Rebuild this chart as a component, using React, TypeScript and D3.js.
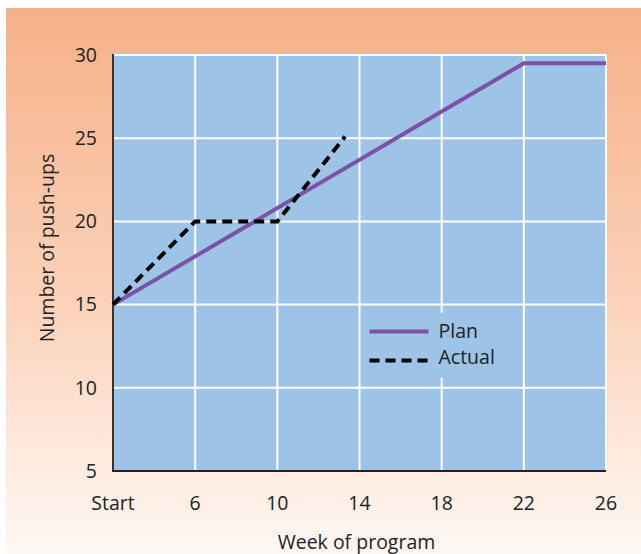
import * as React from 'react';
import { useEffect, useRef } from 'react';
import { select, scaleLinear, line } from 'd3';

interface IPoint {
    week: number;
    value: number;
}

// week 2 is shown as "Start"
const weekTicks = [2, 6, 10, 14, 18, 22, 26];
const weekTickLabels = ['Start', '6', '10', '14', '18', '22', '26'];
const valueTicks = [5, 10, 15, 20, 25, 30];

const planWeeks = [2, 22, 26];
const planValues = [15, 29.5, 29.5];

const actualWeeks = [2, 6, 10, 13.3];
const actualValues = [15, 20, 20, 25.1];

const WIDTH = 641;
const HEIGHT = 554;
const margin = { top: 55, right: 35, bottom: 83, left: 113 };
const FONT = '"Open Sans", "Noto Sans", sans-serif';
const FS = 19.5;

const toPoints = (weeks: number[], values: number[]): IPoint[] =>
    weeks.map((w, i) => ({ week: w, value: values[i] }));

export default function App() {
    const ref = useRef<SVGSVGElement>(null);

    useEffect(() => {
        const svg = select(ref.current);
        svg.selectAll('*').remove();

        const width = WIDTH - margin.left - margin.right;
        const height = HEIGHT - margin.top - margin.bottom;

        const x = scaleLinear().domain([2, 26]).range([0, width]);
        const y = scaleLinear().domain([5, 30]).range([height, 0]);

        const defs = svg.append('defs');
        const grad = defs.append('linearGradient')
            .attr('id', 'bg')
            .attr('x1', 0).attr('y1', 0).attr('x2', 0).attr('y2', 1);
        grad.append('stop').attr('offset', '0%').attr('stop-color', '#f6b087');
        grad.append('stop').attr('offset', '55%').attr('stop-color', '#fcd3bb');
        grad.append('stop').attr('offset', '100%').attr('stop-color', '#fff8f4');

        svg.append('rect')
            .attr('x', 6).attr('y', 8)
            .attr('width', WIDTH - 6).attr('height', HEIGHT - 8)
            .attr('fill', 'url(#bg)');

        const g = svg.append('g').attr('transform', `translate(${margin.left}, ${margin.top})`);

        g.append('rect')
            .attr('width', width).attr('height', height)
            .attr('fill', '#9dc3e6');

        // grid
        g.selectAll('.vgrid')
            .data(weekTicks.slice(1))
            .enter().append('line')
            .attr('x1', (d) => x(d)).attr('x2', (d) => x(d))
            .attr('y1', 0).attr('y2', height)
            .attr('stroke', '#fff').attr('stroke-width', 2);

        g.selectAll('.hgrid')
            .data(valueTicks.slice(1))
            .enter().append('line')
            .attr('x1', 0).attr('x2', width)
            .attr('y1', (d) => y(d)).attr('y2', (d) => y(d))
            .attr('stroke', '#fff').attr('stroke-width', 2);

        // axes
        g.append('line')
            .attr('x1', 0).attr('x2', 0).attr('y1', -1).attr('y2', height + 1)
            .attr('stroke', '#333').attr('stroke-width', 2);
        g.append('line')
            .attr('x1', -1).attr('x2', width).attr('y1', height).attr('y2', height)
            .attr('stroke', '#222').attr('stroke-width', 2);

        g.selectAll('.ylab')
            .data(valueTicks)
            .enter().append('text')
            .attr('x', -16).attr('y', (d) => y(d))
            .attr('dy', '0.35em')
            .attr('text-anchor', 'end')
            .attr('font-family', FONT).attr('font-size', FS)
            .attr('fill', '#222')
            .text((d) => d);

        g.selectAll('.xlab')
            .data(weekTicks)
            .enter().append('text')
            .attr('x', (d) => x(d)).attr('y', height + 32)
            .attr('dy', '0.35em')
            .attr('text-anchor', 'middle')
            .attr('font-family', FONT).attr('font-size', FS)
            .attr('fill', '#222')
            .text((d, i) => weekTickLabels[i]);

        g.append('text')
            .attr('x', width / 2 - 3).attr('y', height + 71)
            .attr('dy', '0.35em')
            .attr('text-anchor', 'middle')
            .attr('font-family', FONT).attr('font-size', FS)
            .attr('fill', '#222')
            .text('Week of program');

        g.append('text')
            .attr('transform', `translate(${-66}, ${height / 2 - 15}) rotate(-90)`)
            .attr('dy', '0.35em')
            .attr('text-anchor', 'middle')
            .attr('font-family', FONT).attr('font-size', FS)
            .attr('fill', '#222')
            .text('Number of push-ups');

        const createdLine = line<IPoint>()
            .x((d) => x(d.week))
            .y((d) => y(d.value));

        g.append('path')
            .datum(toPoints(planWeeks, planValues))
            .attr('fill', 'none')
            .attr('stroke', '#7b52a6')
            .attr('stroke-width', 4)
            .attr('d', createdLine);

        g.append('path')
            .datum(toPoints(actualWeeks, actualValues))
            .attr('fill', 'none')
            .attr('stroke', '#000')
            .attr('stroke-width', 4)
            .attr('stroke-dasharray', '10,6')
            .attr('d', createdLine);

        // legend
        const lg = g.append('g').attr('transform', `translate(${x(14) + 5}, ${y(15) + 8})`);
        lg.append('rect')
            .attr('width', 145).attr('height', 65)
            .attr('fill', '#9dc3e6');
        lg.append('line')
            .attr('x1', 5).attr('x2', 64).attr('y1', 19).attr('y2', 19)
            .attr('stroke', '#7b52a6').attr('stroke-width', 4);
        lg.append('line')
            .attr('x1', 5).attr('x2', 64).attr('y1', 48).attr('y2', 48)
            .attr('stroke', '#000').attr('stroke-width', 4)
            .attr('stroke-dasharray', '10,6');
        lg.append('text')
            .attr('x', 74).attr('y', 19).attr('dy', '0.35em')
            .attr('font-family', FONT).attr('font-size', FS).attr('fill', '#222')
            .text('Plan');
        lg.append('text')
            .attr('x', 74).attr('y', 45).attr('dy', '0.35em')
            .attr('font-family', FONT).attr('font-size', FS).attr('fill', '#222')
            .text('Actual');
    }, []);

    return (
        <svg
            ref={ref}
            width={WIDTH}
            height={HEIGHT}
            style={{ position: 'absolute', left: 0, top: 0, display: 'block' }}
        />
    );
}
